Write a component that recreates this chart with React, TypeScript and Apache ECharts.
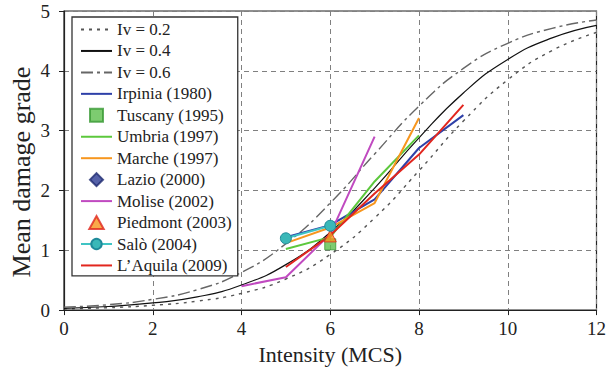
import React, { useEffect, useRef } from "react";
import * as echarts from "echarts";

// Intensity grid for the vulnerability curves
const intensity = [0, 1, 2, 3, 4, 5, 6, 7, 8, 9, 10, 11, 12];
const iv02 = [0.02, 0.04, 0.08, 0.15, 0.28, 0.52, 0.93, 1.54, 2.33, 3.16, 3.85, 4.34, 4.64];
const iv04 = [0.03, 0.06, 0.12, 0.22, 0.42, 0.76, 1.3, 2.04, 2.88, 3.63, 4.19, 4.55, 4.76];
const iv06 = [0.05, 0.09, 0.18, 0.34, 0.63, 1.11, 1.79, 2.61, 3.41, 4.04, 4.46, 4.71, 4.85];

// Observed earthquakes: intensities and mean damage grades
const irpiniaI = [5, 6, 7, 8, 9];
const irpiniaD = [1.22, 1.42, 1.85, 2.71, 3.26];
const tuscanyI = [6];
const tuscanyD = [1.1];
const umbriaI = [5, 6, 7, 8];
const umbriaD = [1.02, 1.22, 2.15, 2.92];
const marcheI = [5, 6, 7, 8];
const marcheD = [1.12, 1.38, 1.79, 3.21];
const lazioI = [6];
const lazioD = [1.4];
const moliseI = [4, 5, 6, 7];
const moliseD = [0.4, 0.55, 1.27, 2.9];
const piedmontI = [6];
const piedmontD = [1.24];
const saloI = [5, 6];
const saloD = [1.2, 1.41];
const aquilaI = [5, 6, 7, 8, 9];
const aquilaD = [0.72, 1.25, 1.95, 2.6, 3.43];

const xTicks = [0, 2, 4, 6, 8, 10, 12];
const yTicks = [0, 1, 2, 3, 4, 5];

const pairs = (xs: number[], ys: number[]) => xs.map((x, i) => [x, ys[i]]);

const FONT = "Liberation Serif";

const SQUARE = "path://M0,0L10,0L10,10L0,10Z";
const DIAMOND = "path://M5,0L10,5L5,10L0,5Z";
const TRIANGLE = "path://M5,0L10,9L0,9Z";

export default function App() {
  const ref = useRef<HTMLDivElement>(null);

  useEffect(() => {
    if (!ref.current) return;
    const chart = echarts.init(ref.current, undefined, { renderer: "svg" });

    const curve = (name: string, ys: number[], color: string, type: any, width: number) => ({
      name,
      type: "line",
      data: pairs(intensity, ys),
      smooth: 0.5,
      symbol: "none",
      lineStyle: { color, width, type },
      itemStyle: { color },
      z: 2,
    });

    const dataLine = (name: string, xs: number[], ys: number[], color: string) => ({
      name,
      type: "line",
      data: pairs(xs, ys),
      symbol: "none",
      lineStyle: { color, width: 2 },
      itemStyle: { color },
      z: 3,
    });

    const hidden = { itemStyle: { opacity: 0 } };

    const option: any = {
      animation: false,
      backgroundColor: "#fff",
      textStyle: { fontFamily: FONT },
      grid: {
        left: 64,
        right: 10,
        top: 11,
        bottom: 59,
        show: true,
        borderColor: "#222",
        borderWidth: 1.2,
        backgroundColor: "transparent",
      },
      graphic: [
        {
          type: "text",
          x: 21,
          y: 172,
          rotation: Math.PI / 2,
          style: {
            text: "Mean damage grade",
            fontFamily: FONT,
            fontSize: 26,
            fill: "#222",
            align: "center",
            verticalAlign: "middle",
          },
        },
      ],
      xAxis: {
        type: "value",
        min: xTicks[0],
        max: xTicks[xTicks.length - 1],
        interval: 2,
        name: "Intensity (MCS)",
        nameLocation: "middle",
        nameGap: 32,
        nameTextStyle: { fontFamily: FONT, fontSize: 22, color: "#222" },
        axisLine: { show: true, lineStyle: { color: "#222", width: 1.2 } },
        axisTick: { show: true, length: 5, lineStyle: { color: "#222" } },
        axisLabel: { fontFamily: FONT, fontSize: 19, color: "#222", margin: 9 },
        splitLine: { show: true, lineStyle: { color: "#808080", type: [5, 4], width: 1 } },
      },
      yAxis: {
        type: "value",
        min: yTicks[0],
        max: yTicks[yTicks.length - 1],
        interval: 1,
        axisLine: { show: true, lineStyle: { color: "#222", width: 1.2 } },
        axisTick: { show: true, length: 5, lineStyle: { color: "#222" } },
        axisLabel: { fontFamily: FONT, fontSize: 19, color: "#222", margin: 14 },
        splitLine: { show: true, lineStyle: { color: "#808080", type: [5, 4], width: 1 } },
      },
      legend: {
        orient: "vertical",
        left: 72,
        top: 17,
        padding: [4, 6, 2, 8],
        itemGap: 4.45,
        itemWidth: 31,
        itemHeight: 13,
        symbolKeepAspect: true,
        backgroundColor: "#fff",
        borderColor: "#333",
        borderWidth: 1.3,
        textStyle: { fontFamily: FONT, fontSize: 17, color: "#222", lineHeight: 17 },
        data: [
          { name: "Iv = 0.2", ...hidden },
          { name: "Iv = 0.4", ...hidden },
          { name: "Iv = 0.6", ...hidden },
          { name: "Irpinia (1980)", ...hidden },
          { name: "Tuscany (1995)", icon: SQUARE },
          { name: "Umbria (1997)", ...hidden },
          { name: "Marche (1997)", ...hidden },
          { name: "Lazio (2000)", icon: DIAMOND },
          { name: "Molise (2002)", ...hidden },
          { name: "Piedmont (2003)", icon: TRIANGLE },
          { name: "Salò (2004)" },
          { name: "L\u2019Aquila (2009)", ...hidden },
        ],
      },
      series: [
        curve("Iv = 0.2", iv02, "#555", [3, 5], 1.4),
        curve("Iv = 0.4", iv04, "#111", "solid", 1.2),
        curve("Iv = 0.6", iv06, "#666", [12, 4, 3, 4], 1.4),
        dataLine("Irpinia (1980)", irpiniaI, irpiniaD, "#2e40a8"),
        {
          name: "Tuscany (1995)",
          type: "scatter",
          data: pairs(tuscanyI, tuscanyD),
          symbol: "rect",
          symbolSize: 11,
          itemStyle: { color: "#5cbf4c", borderColor: "#3a9a34", borderWidth: 1 },
          z: 4,
        },
        dataLine("Umbria (1997)", umbriaI, umbriaD, "#5cc83c"),
        dataLine("Marche (1997)", marcheI, marcheD, "#f7961e"),
        {
          name: "Lazio (2000)",
          type: "scatter",
          data: pairs(lazioI, lazioD),
          symbol: "diamond",
          symbolSize: 11,
          itemStyle: { color: "#2b3a92", borderColor: "#1e2a70", borderWidth: 1 },
          z: 4,
        },
        dataLine("Molise (2002)", moliseI, moliseD, "#c04ac0"),
        {
          name: "Piedmont (2003)",
          type: "scatter",
          data: pairs(piedmontI, piedmontD),
          symbol: "triangle",
          symbolSize: 12,
          itemStyle: { color: "#f7941d", borderColor: "#e0261e", borderWidth: 1 },
          z: 5,
        },
        {
          name: "Salò (2004)",
          type: "line",
          data: pairs(saloI, saloD),
          symbol: "circle",
          symbolSize: 11,
          showSymbol: true,
          lineStyle: { color: "#40c4c4", width: 2 },
          itemStyle: { color: "#3ab8b8", borderColor: "#1f8a9a", borderWidth: 1 },
          z: 6,
        },
        dataLine("L\u2019Aquila (2009)", aquilaI, aquilaD, "#e2261e"),
      ],
    };

    chart.setOption(option);
    return () => chart.dispose();
  }, []);

  return (
    <div
      ref={ref}
      style={{ position: "fixed", left: 0, top: 0, width: 609, height: 370, background: "#fff" }}
    />
  );
}
